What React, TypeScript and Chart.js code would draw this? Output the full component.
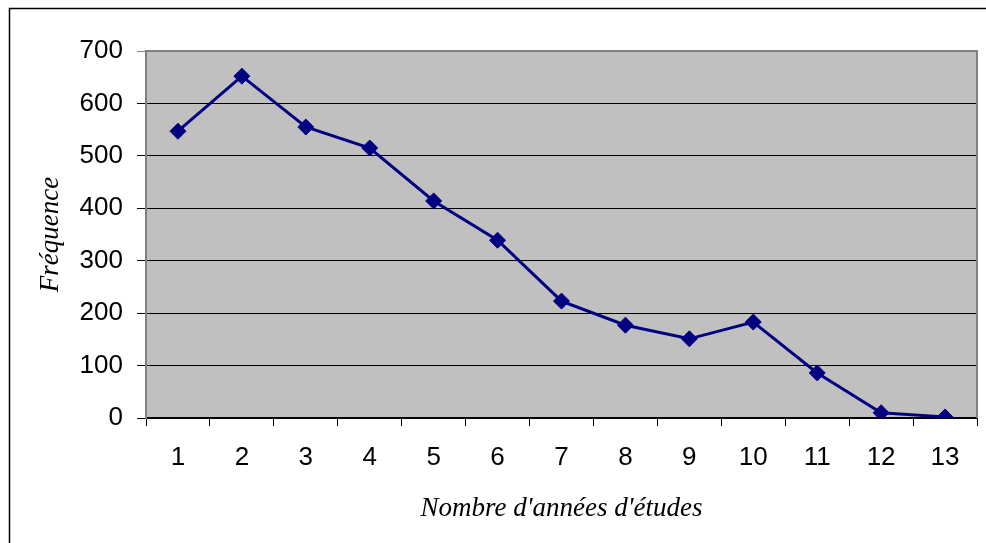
import React, { useEffect, useRef } from "react";
import { Chart, registerables } from "chart.js";

Chart.register(...registerables);

const categories = ["1", "2", "3", "4", "5", "6", "7", "8", "9", "10", "11", "12", "13"];
const frequencies = [547, 652, 555, 515, 414, 339, 223, 177, 151, 183, 86, 10, 2];
const yTicks = [0, 100, 200, 300, 400, 500, 600, 700];
const xTitle = "Nombre d'années d'études";
const yTitle = "Fréquence";

const framePlugin = {
  id: "framePlugin",
  beforeDraw(chart: any) {
    const { ctx, chartArea } = chart;
    ctx.save();
    ctx.fillStyle = "#ffffff";
    ctx.fillRect(0, 0, chart.width, chart.height);
    ctx.strokeStyle = "#000000";
    ctx.lineWidth = 1.5;
    ctx.strokeRect(9.5, 8.5, 2000, 2000);
    ctx.fillStyle = "#C0C0C0";
    ctx.fillRect(chartArea.left, chartArea.top, chartArea.right - chartArea.left, chartArea.bottom - chartArea.top);
    ctx.restore();
  },
  afterDatasetsDraw(chart: any) {
    const { ctx, chartArea } = chart;
    ctx.save();
    ctx.strokeStyle = "#808080";
    ctx.lineWidth = 2;
    ctx.beginPath();
    ctx.moveTo(chartArea.left, chartArea.top);
    ctx.lineTo(chartArea.right, chartArea.top);
    ctx.lineTo(chartArea.right, chartArea.bottom);
    ctx.stroke();
    ctx.restore();
  },
};

export default function App() {
  const ref = useRef<HTMLCanvasElement | null>(null);
  useEffect(() => {
    if (!ref.current) return;
    const chart = new Chart(ref.current, {
      type: "line",
      data: {
        labels: categories,
        datasets: [
          {
            data: frequencies,
            borderColor: "#000080",
            backgroundColor: "#000080",
            borderWidth: 3,
            pointStyle: "rectRot",
            pointRadius: 8,
            pointHoverRadius: 8,
            pointBorderWidth: 1,
            tension: 0,
          },
        ],
      },
      options: {
        animation: false,
        responsive: false,
        devicePixelRatio: 1,
        layout: { padding: { top: 51, right: 9, left: 0, bottom: 0 } },
        plugins: { legend: { display: false }, tooltip: { enabled: false } },
        scales: {
          x: {
            offset: true,
            afterFit(scale: any) {
              scale.height = 125;
            },
            grid: {
              offset: true,
              drawOnChartArea: false,
              drawTicks: true,
              tickLength: 8,
              color: "#000000",
              lineWidth: 1,
            },
            border: { display: true, color: "#000000", width: 1.5 },
            ticks: {
              color: "#000000",
              padding: 16,
              font: { family: "'Liberation Sans', Arial, sans-serif", size: 26 },
            },
            title: {
              display: true,
              text: xTitle,
              color: "#000000",
              font: { family: "'Liberation Serif', 'Times New Roman', serif", size: 27, style: "italic" },
              padding: { top: 0, bottom: 18 },
            },
          },
          y: {
            min: 0,
            max: 700,
            afterFit(scale: any) {
              scale.width = 146;
            },
            afterBuildTicks(scale: any) {
              scale.ticks = yTicks.map((v) => ({ value: v }));
            },
            grid: {
              drawOnChartArea: true,
              tickLength: 9,
              color: (c: any) => (c.tick && c.tick.value === 700 ? "#808080" : "#000000"),
              lineWidth: 1,
            },
            border: { display: true, color: "#808080", width: 2 },
            ticks: {
              color: "#000000",
              padding: 14,
              font: { family: "'Liberation Sans', Arial, sans-serif", size: 26 },
            },
            title: {
              display: true,
              text: yTitle,
              color: "#000000",
              font: { family: "'Liberation Serif', 'Times New Roman', serif", size: 27, style: "italic" },
              padding: { top: 35, bottom: 0 },
            },
          },
        },
      },
      plugins: [framePlugin],
    });
    return () => chart.destroy();
  }, []);
  return (
    <div style={{ position: "fixed", left: 0, top: 0, width: 986, height: 543 }}>
      <canvas ref={ref} width={986} height={543} style={{ width: 986, height: 543, display: "block" }} />
    </div>
  );
}
